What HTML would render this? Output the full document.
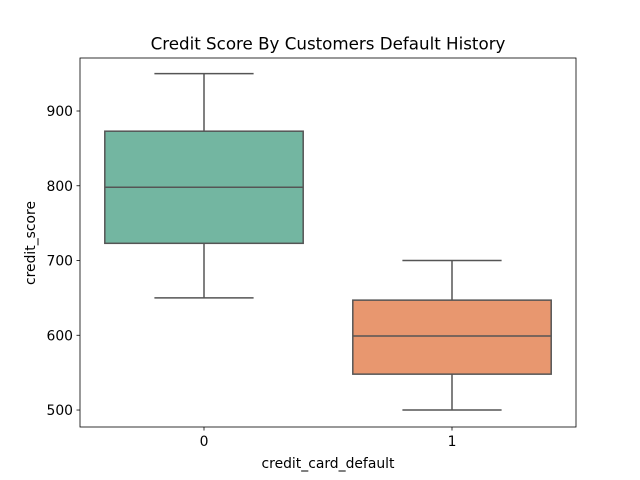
<!DOCTYPE html>
<html><head><meta charset="utf-8"><style>
body{margin:0;background:#fff;}
svg{display:block;font-family:"DejaVu Sans","Liberation Sans",sans-serif;}
</style></head><body>
<svg id="chart" width="640" height="480" viewBox="0 0 640 480">
<text x="328" y="49.5" text-anchor="middle" font-size="16.7" fill="#000">Credit Score By Customers Default History</text>
<g id="plot"></g>
<rect x="80" y="58" width="496" height="369" fill="none" stroke="#000" stroke-width="0.8"/>
<text x="328" y="468" text-anchor="middle" font-size="13.9" fill="#000">credit_card_default</text>
<text transform="translate(35,243) rotate(-90)" text-anchor="middle" font-size="13.9" fill="#000">credit_score</text>
</svg>
<script>
const categories = ["0", "1"];
const whiskerLow = [650, 500];
const q1 = [723, 548];
const median = [798, 599];
const q3 = [873, 647];
const whiskerHigh = [950, 700];
const boxColors = ["#73b6a1", "#e8976f"];
const yTicks = [500, 600, 700, 800, 900];

const x0 = 80, x1 = 576, yTop = 58, yBot = 427;
const yMin = 477.3, yMax = 970.9;
const ns = "http://www.w3.org/2000/svg";
const g = document.getElementById("plot");
function yScale(v){ return yBot - (v - yMin) / (yMax - yMin) * (yBot - yTop); }
const band = (x1 - x0) / categories.length;
function xScale(i){ return x0 + band * (i + 0.5); }
function mk(tag, attrs){ const e = document.createElementNS(ns, tag); for (const k in attrs) e.setAttribute(k, attrs[k]); g.appendChild(e); return e; }

yTicks.forEach(t => {
  const y = yScale(t);
  const tk = mk("line", {x1: x0 - 3.5, x2: x0, y1: y, y2: y, stroke: "#000", "stroke-width": 0.8});
  
  
  const lb = mk("text", {x: x0 - 7, y: y + 5, "text-anchor": "end", "font-size": 13.9, fill: "#000"});
  lb.textContent = t;
  
  
});

categories.forEach((c, i) => {
  const cx = xScale(i);
  const bw = band * 0.8, cw = bw / 2;
  const st = {stroke: "#555", "stroke-width": 1.5};
  const w1 = mk("line", Object.assign({x1: cx, x2: cx, y1: yScale(whiskerLow[i]), y2: yScale(q1[i])}, st));
  
  
  const w2 = mk("line", Object.assign({x1: cx, x2: cx, y1: yScale(q3[i]), y2: yScale(whiskerHigh[i])}, st));
  
  
  const c1 = mk("line", Object.assign({x1: cx - cw/2, x2: cx + cw/2, y1: yScale(whiskerLow[i]), y2: yScale(whiskerLow[i])}, st));
  
  
  const c2 = mk("line", Object.assign({x1: cx - cw/2, x2: cx + cw/2, y1: yScale(whiskerHigh[i]), y2: yScale(whiskerHigh[i])}, st));
  
  
  const b = mk("rect", Object.assign({x: cx - bw/2, width: bw, y: yScale(q3[i]), height: yScale(q1[i]) - yScale(q3[i]), fill: boxColors[i]}, st));
  
  
  const m = mk("line", Object.assign({x1: cx - bw/2, x2: cx + bw/2, y1: yScale(median[i]), y2: yScale(median[i])}, st));
  
  
  const tk = mk("line", {x1: cx, x2: cx, y1: yBot, y2: yBot + 3.5, stroke: "#000", "stroke-width": 0.8});
  
  
  const lb = mk("text", {x: cx, y: yBot + 19, "text-anchor": "middle", "font-size": 13.9, fill: "#000"});
  lb.textContent = c;
  
  
});
</script>
</body></html>
